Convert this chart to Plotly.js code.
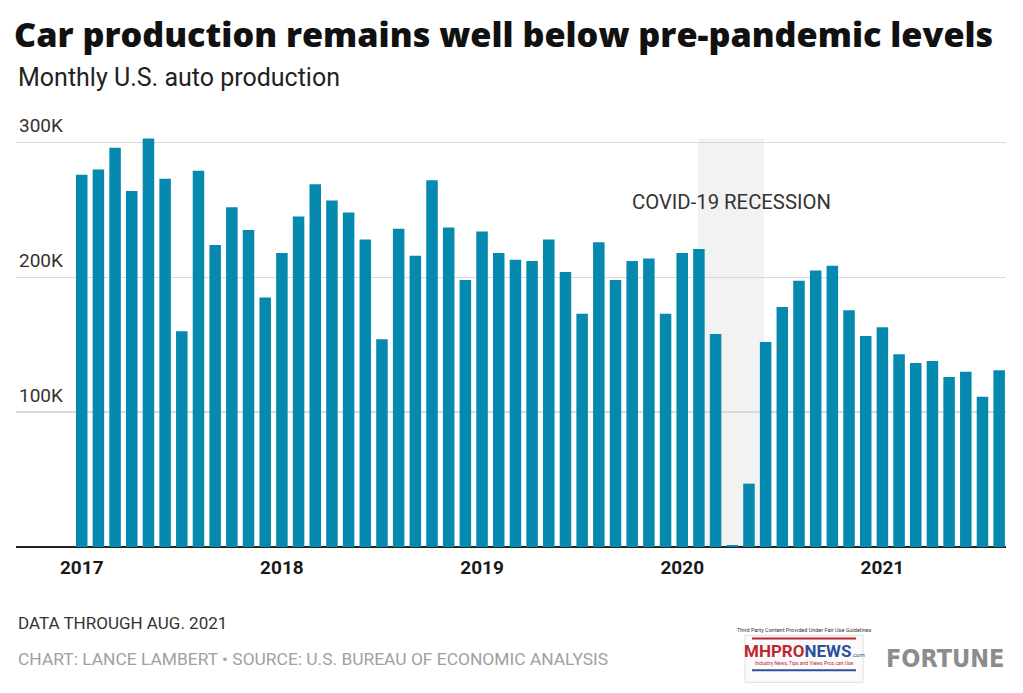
<!DOCTYPE html>
<html>
<head>
<meta charset="utf-8">
<script src="https://cdn.plot.ly/plotly-3.0.1.min.js"></script>
<style>
html,body{margin:0;padding:0;background:#fff;}
#chart{width:1023px;height:693px;}
</style>
</head>
<body>
<div id="chart"></div>
<script>
// Months Jan 2017 - Aug 2021
const months = [
 "2017-01","2017-02","2017-03","2017-04","2017-05","2017-06","2017-07","2017-08","2017-09","2017-10","2017-11","2017-12",
 "2018-01","2018-02","2018-03","2018-04","2018-05","2018-06","2018-07","2018-08","2018-09","2018-10","2018-11","2018-12",
 "2019-01","2019-02","2019-03","2019-04","2019-05","2019-06","2019-07","2019-08","2019-09","2019-10","2019-11","2019-12",
 "2020-01","2020-02","2020-03","2020-04","2020-05","2020-06","2020-07","2020-08","2020-09","2020-10","2020-11","2020-12",
 "2021-01","2021-02","2021-03","2021-04","2021-05","2021-06","2021-07","2021-08"
];
// Monthly U.S. auto production (units)
const production = [
 276000,280000,296000,264000,303000,273000,160000,279000,224000,252000,235000,185000,
 218000,245000,269000,257000,248000,228000,154000,236000,216000,272000,237000,198000,
 234000,218000,213000,212000,228000,204000,173000,226000,198000,212000,214000,173000,
 218000,221000,158000,1500,47000,152000,178000,197500,205000,208500,175500,156500,
 163000,143000,136500,138000,126000,130000,111500,131000
];
const yTickVals = [100000,200000,300000];
const yTickText = ["100K","200K","300K"];
const xTickVals = ["2017-01","2018-01","2019-01","2020-01","2021-01"];
const xTickText = ["2017","2018","2019","2020","2021"];
const recession = {start: 36.95, end: 40.9, label: "COVID-19 RECESSION"};

const TOP = 100, BOTTOM = 145.5, L = 16, R = 17;
const plotH = 693 - TOP - BOTTOM;
const py = p => (693 - BOTTOM - p) / plotH; // pixel y -> paper y
const px = p => (p - L) / (1023 - L - R);     // pixel x -> paper x

const FONT = "Roboto, 'Noto Sans', sans-serif";
const TITLEFONT = "'Open Sans', Roboto, sans-serif";
const NARROW = "'DejaVu Sans Condensed', 'Liberation Sans Narrow', Roboto, sans-serif";

const trace = {
  type: "bar",
  x: months,
  y: production,
  marker: {color: "#0589af", line: {width: 0}},
  hoverinfo: "x+y"
};

const layout = {
  width: 1023, height: 693,
  margin: {l: L, r: R, t: TOP, b: BOTTOM, pad: 0},
  paper_bgcolor: "#fff", plot_bgcolor: "#fff",
  bargap: 0.31,
  showlegend: false,
  title: {
    text: "Car production remains well below pre-pandemic levels",
    font: {family: TITLEFONT, size: 34.2, color: "#111", weight: 800},
    xref: "container", x: 14/1023, xanchor: "left",
    yref: "container", y: 1 - 35/693, yanchor: "middle"
  },
  xaxis: {
    type: "category",
    range: [-3.94, 55.41],
    tickmode: "array", tickvals: xTickVals, ticktext: xTickText,
    tickfont: {family: FONT, size: 19, color: "#1a1a1a", weight: "bold"},
    ticklabelstandoff: 7,
    showgrid: false, zeroline: false, showline: false,
    ticks: "", ticklen: 0,
    fixedrange: true
  },
  yaxis: {
    range: [0, plotH / 1.35 * 1000],
    tickmode: "array", tickvals: yTickVals, ticktext: yTickText,
    ticklabelposition: "inside top",
    ticklabelshift: -4,
    tickfont: {family: FONT, size: 19, color: "#333"},
    showgrid: true, gridcolor: "#d9d9d9", gridwidth: 1.5,
    zeroline: true, zerolinecolor: "#222", zerolinewidth: 2,
    showline: false, ticks: "",
    fixedrange: true
  },
  shapes: [
    {type: "rect", layer: "below", xref: "x", yref: "y",
     x0: recession.start, x1: recession.end, y0: 0, y1: 303000,
     fillcolor: "#f2f2f2", line: {width: 0}},
    // logo approximation
    {type: "rect", xref: "paper", yref: "paper", x0: px(745), x1: px(863), y0: py(683), y1: py(636),
     fillcolor: "#fbfbfb", line: {color: "#e0e0e0", width: 1}},
    {type: "line", xref: "paper", yref: "paper", x0: px(752), x1: px(856), y0: py(639), y1: py(639),
     line: {color: "#b3262b", width: 2}},
    {type: "line", xref: "paper", yref: "paper", x0: px(752), x1: px(856), y0: py(671), y1: py(671),
     line: {color: "#2d4f9e", width: 2}}
  ],
  annotations: [
    {text: "Monthly U.S. auto production", xref: "paper", yref: "paper",
     x: 0, y: py(77), xanchor: "left", yanchor: "middle", showarrow: false,
     font: {family: FONT, size: 25, color: "#222"}},
    {text: recession.label, xref: "x", yref: "y",
     x: (recession.start + recession.end) / 2, y: 255500, xanchor: "center", yanchor: "middle", showarrow: false,
     font: {family: FONT, size: 20.3, color: "#333"}},
    {text: "DATA THROUGH AUG. 2021", xref: "paper", yref: "paper",
     x: 0, y: py(624), xanchor: "left", yanchor: "middle", showarrow: false,
     font: {family: FONT, size: 17, color: "#333"}},
    {text: "CHART: LANCE LAMBERT • SOURCE: U.S. BUREAU OF ECONOMIC ANALYSIS", xref: "paper", yref: "paper",
     x: 0, y: py(660), xanchor: "left", yanchor: "middle", showarrow: false,
     font: {family: FONT, size: 17.4, color: "#a0a0a0"}},
    {text: "<b>FORTUNE</b>", xref: "paper", yref: "paper",
     x: px(1006), y: py(659), xanchor: "right", yanchor: "middle", showarrow: false,
     font: {family: NARROW, size: 25, color: "#8c8c8c"}},
    {text: "Third Party Content Provided Under Fair Use Guidelines", xref: "paper", yref: "paper",
     x: px(804), y: py(631), xanchor: "center", yanchor: "middle", showarrow: false,
     font: {family: FONT, size: 5.5, color: "#333"}},
    {text: "<b><span style='color:#c0272d'>MHPRO</span><span style='color:#2d4f9e'>NEWS</span></b><span style='color:#2d4f9e;font-size:6px'>.com</span>",
     xref: "paper", yref: "paper",
     x: px(804), y: py(652), xanchor: "center", yanchor: "middle", showarrow: false,
     font: {family: FONT, size: 17, color: "#2d4f9e"}},
    {text: "Industry News, Tips and Views Pros can Use", xref: "paper", yref: "paper",
     x: px(804), y: py(664), xanchor: "center", yanchor: "middle", showarrow: false,
     font: {family: FONT, size: 5, color: "#c0272d"}}
  ]
};

Plotly.newPlot("chart", [trace], layout, {displayModeBar: false, staticPlot: true});
</script>
</body>
</html>
